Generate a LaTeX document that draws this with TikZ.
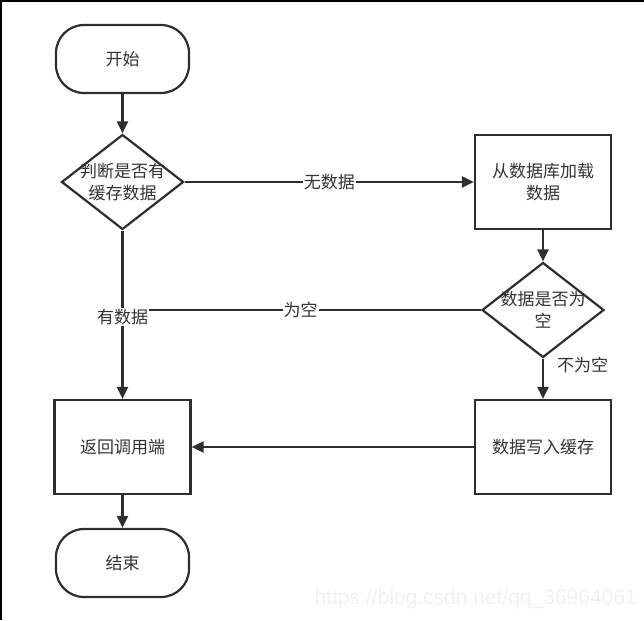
\documentclass[tikz,border=0pt]{standalone}
\usepackage{fontspec}
\newfontfamily\cjk{Noto Sans CJK SC}
\newfontfamily\wmfont{Liberation Sans}
\usetikzlibrary{shapes.geometric,arrows.meta}
\definecolor{ln}{HTML}{2E2E2E}
\definecolor{tx}{HTML}{333333}
\definecolor{wmc}{HTML}{F0F0F0}
\begin{document}
\begin{tikzpicture}[x=1pt,y=-1pt,
  every node/.style={font=\cjk\fontsize{17}{22}\selectfont, text=tx, align=center},
  term/.style={draw=ln, line width=2.2pt, rectangle, rounded corners=28pt, minimum width=133pt, minimum height=68pt},
  procbox/.style={draw=ln, line width=2.2pt, rectangle, minimum width=136pt, minimum height=94pt},
  decide/.style={draw=ln, line width=2.2pt, diamond, minimum width=122pt, minimum height=95pt, inner sep=0pt},
  conn/.style={draw=ln, line width=2.2pt},
  arr/.style={conn, -{Triangle[length=12pt,width=11pt]}},
  lbl/.style={fill=white, inner sep=1pt}
]
\useasboundingbox (0,0) rectangle (644,620);
\draw[line width=2pt, black] (0,1) -- (644,1);
\draw[line width=1.6pt, black] (0.8,0) -- (0.8,620);

\node[term] (start) at (122.5,59) {开始};
\node[decide] (d1) at (122.5,182) {};
\node at (d1) {判断是否有\\缓存数据};
\node[procbox] (load) at (543,182) {从数据库加载\\数据};
\node[decide] (d2) at (543,310) {};
\node at (d2) {数据是否为\\空};
\node[procbox] (ret) at (122.5,447) {返回调用端};
\node[procbox] (write) at (543,447) {数据写入缓存};
\node[term] (end) at (122.5,563) {结束};
\coordinate (j) at (122.5,310);

\draw[arr] (start.south) -- (d1.north);
\draw[arr] (d1.east) -- node[lbl] {无数据} (load.west);
\draw[arr] (load.south) -- (d2.north);
\draw[conn] (d2.west) -- node[lbl, pos=0.503] {为空} (j);
\draw[arr] (d1.south) -- node[lbl, pos=0.506, yshift=-1pt] {有数据} (ret.north);
\draw[arr] (d2.south) -- node[pos=0.15, anchor=west, inner sep=0pt, xshift=13pt] {不为空} (write.north);
\draw[arr] (write.west) -- (ret.east);
\draw[arr] (ret.south) -- (end.north);

\node[font=\wmfont\fontsize{21}{21}\selectfont, text=wmc, anchor=east, inner sep=0pt] (wm) at (637,599) {https://blog.csdn.net/qq\_36964061};
\end{tikzpicture}
\end{document}
